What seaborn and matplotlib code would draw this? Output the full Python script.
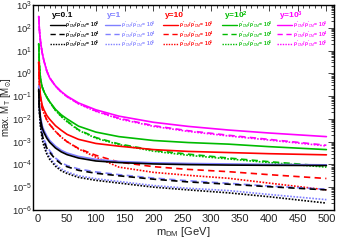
import numpy as np
import pandas as pd
import matplotlib
matplotlib.use("Agg")
import matplotlib.pyplot as plt
import seaborn as sns

# ---------------- data (log10 of max. M_T in M_sun) ----------------
m_dm = [1, 2, 4, 7, 10, 15, 20, 30, 40, 50, 70, 100, 140, 200, 260, 330, 400, 500]

# y = 0.1 (black)
logM_y01_r3 = [-0.70, -1.50, -2.00, -2.40, -2.60, -2.85, -3.03, -3.28, -3.45, -3.57, -3.72, -3.85, -3.92, -3.98, -4.01, -4.03, -4.04, -4.05]
logM_y01_r4 = [-0.75, -1.60, -2.20, -2.70, -3.00, -3.28, -3.47, -3.78, -3.98, -4.10, -4.26, -4.39, -4.50, -4.65, -4.77, -4.87, -4.98, -5.12]
logM_y01_r5 = [-0.75, -1.65, -2.35, -2.90, -3.20, -3.55, -3.78, -4.08, -4.28, -4.40, -4.57, -4.70, -4.82, -5.00, -5.12, -5.25, -5.42, -5.70]
# y = 1 (blue)
logM_y1_r3 = [-0.55, -1.40, -1.90, -2.30, -2.50, -2.75, -2.95, -3.20, -3.38, -3.50, -3.65, -3.78, -3.87, -3.93, -3.96, -3.98, -4.00, -4.02]
logM_y1_r4 = [-0.60, -1.50, -2.10, -2.60, -2.90, -3.20, -3.40, -3.72, -3.92, -4.05, -4.20, -4.33, -4.45, -4.60, -4.72, -4.83, -4.95, -5.09]
logM_y1_r5 = [-0.60, -1.55, -2.25, -2.80, -3.10, -3.45, -3.70, -4.00, -4.20, -4.33, -4.50, -4.63, -4.75, -4.93, -5.05, -5.15, -5.32, -5.55]
# y = 10 (red)
logM_y10_r3 = [0.50, -0.40, -1.00, -1.40, -1.60, -1.85, -2.02, -2.30, -2.50, -2.68, -2.90, -3.08, -3.20, -3.35, -3.43, -3.48, -3.53, -3.58]
logM_y10_r4 = [0.50, -0.45, -1.10, -1.55, -1.75, -2.05, -2.25, -2.55, -2.80, -3.00, -3.30, -3.60, -3.90, -4.10, -4.22, -4.32, -4.45, -4.62]
logM_y10_r5 = [0.50, -0.45, -1.10, -1.55, -1.75, -2.05, -2.25, -2.55, -2.80, -3.00, -3.32, -3.68, -4.12, -4.35, -4.48, -4.61, -4.82, -5.12]
# y = 10^2 (green)
logM_y100_r3 = [1.30, 0.40, -0.25, -0.60, -0.80, -1.05, -1.25, -1.58, -1.82, -2.00, -2.32, -2.58, -2.78, -2.95, -3.04, -3.11, -3.22, -3.35]
logM_y100_r4 = [1.30, 0.40, -0.25, -0.60, -0.80, -1.05, -1.26, -1.62, -1.88, -2.10, -2.48, -2.82, -3.10, -3.38, -3.55, -3.72, -3.88, -4.08]
logM_y100_r5 = [1.30, 0.40, -0.25, -0.60, -0.80, -1.05, -1.26, -1.63, -1.90, -2.12, -2.50, -2.85, -3.13, -3.42, -3.60, -3.76, -3.92, -4.12]
# y = 10^3 (magenta)
logM_y1000_r3 = [2.50, 1.95, 1.40, 0.90, 0.55, 0.10, -0.20, -0.55, -0.80, -1.00, -1.30, -1.60, -1.88, -2.15, -2.33, -2.49, -2.62, -2.78]
logM_y1000_r4 = [2.50, 1.95, 1.40, 0.90, 0.55, 0.10, -0.20, -0.56, -0.82, -1.02, -1.33, -1.65, -1.97, -2.30, -2.52, -2.72, -2.90, -3.16]
logM_y1000_r5 = [2.50, 1.95, 1.40, 0.90, 0.55, 0.10, -0.20, -0.56, -0.82, -1.03, -1.34, -1.67, -2.00, -2.33, -2.55, -2.75, -2.93, -3.19]

y_labels = ["y=0.1", "y=1", "y=10", "y=10$^2$", "y=10$^3$"]
ratio_labels = ["10$^3$", "10$^4$", "10$^5$"]
colors = ["#000000", "#8080ff", "#ff0000", "#00bb00", "#ff00ff"]

curves = [
    [logM_y01_r3, logM_y01_r4, logM_y01_r5],
    [logM_y1_r3, logM_y1_r4, logM_y1_r5],
    [logM_y10_r3, logM_y10_r4, logM_y10_r5],
    [logM_y100_r3, logM_y100_r4, logM_y100_r5],
    [logM_y1000_r3, logM_y1000_r4, logM_y1000_r5],
]

# ---------------- style ----------------
sns.set_style("white")
plt.rcParams["font.family"] = ["Liberation Sans", "DejaVu Sans"]
plt.rcParams["mathtext.fontset"] = "custom"
plt.rcParams["mathtext.rm"] = "Liberation Sans"
plt.rcParams["mathtext.it"] = "Liberation Sans:italic"
plt.rcParams["mathtext.bf"] = "Liberation Sans:bold"
plt.rcParams["mathtext.default"] = "regular"

fig = plt.figure(figsize=(3.4, 2.41), dpi=100)
ax = fig.add_axes([0.097, 0.129, 0.885, 0.850])

styles = ["-", (0, (3.8, 2.6)), (0, (1.0, 0.9))]
lw = 1.2

# draw back-to-front (magenta first so lower curves on top)
for ci in [4, 3, 2, 1, 0]:
    for ri in [2, 1, 0]:
        df = pd.DataFrame({"m": m_dm, "M": np.power(10.0, curves[ci][ri])})
        sns.lineplot(data=df, x="m", y="M", ax=ax, color=colors[ci],
                     linestyle=styles[ri], linewidth=lw, legend=False,
                     estimator=None, sort=False)

ax.set_yscale("log")
ax.set_xlim(-9, 513)
ax.set_ylim(1e-6, 1e3)
ax.set_xticks([0, 50, 100, 150, 200, 250, 300, 350, 400, 450, 500])
ax.set_xticks(np.arange(0, 511, 10), minor=True)
ax.set_yticks([10.0 ** k for k in range(-6, 4)])
ax.set_yticklabels(["10$^{%d}$" % k for k in range(-6, 4)])
ax.yaxis.set_minor_locator(matplotlib.ticker.LogLocator(base=10, subs=np.arange(2, 10), numticks=50))
ax.yaxis.set_minor_formatter(matplotlib.ticker.NullFormatter())
ax.tick_params(which="both", direction="in", top=True, right=True, width=0.6)
ax.tick_params(which="major", length=4)
ax.tick_params(which="minor", length=2)
ax.tick_params(axis="x", pad=3, labelsize=8)
ax.tick_params(axis="y", pad=0.5, labelsize=6.8)
for s in ax.spines.values():
    s.set_linewidth(1.0)
    s.set_color("black")

ax.set_xlabel("m$_{\\rm DM}$ [GeV]", fontsize=8, labelpad=1)
ax.set_ylabel("max. M$_{\\rm T}$ [M$_{\\odot}$]", fontsize=7)
ax.yaxis.set_label_coords(-0.064, 0.5)

# ---------------- custom legend block ----------------
col_x = [0.056, 0.239, 0.432, 0.628, 0.811]
row_y = [0.903, 0.857, 0.811]
head_y = 0.947
for ci in range(5):
    ax.text(col_x[ci] + 0.006, head_y, y_labels[ci], transform=ax.transAxes,
            color=colors[ci], fontsize=6, fontweight="bold", va="center", ha="left")
    for ri in range(3):
        ax.plot([col_x[ci], col_x[ci] + 0.05], [row_y[ri], row_y[ri]],
                transform=ax.transAxes, color=colors[ci], linestyle=styles[ri],
                linewidth=1.0)
        ax.text(col_x[ci] + 0.052, row_y[ri],
                "$\\rho'_{\\rm DM}/\\rho'_{\\rm DM}$= " + ratio_labels[ri],
                transform=ax.transAxes, color=colors[ci], fontsize=3.6,
                fontweight="bold", va="center", ha="left")

fig.savefig("out.png", dpi=100)
